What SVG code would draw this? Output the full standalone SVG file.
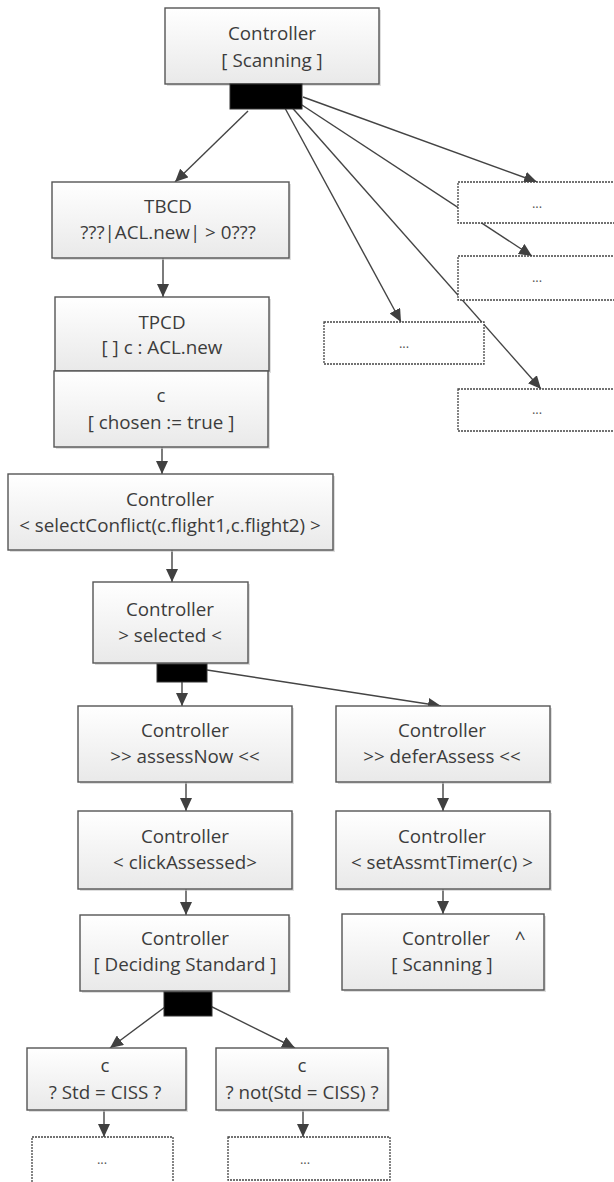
<svg xmlns="http://www.w3.org/2000/svg" width="614" height="1182" viewBox="0 0 614 1182">
<style>
.box{fill:url(#g);stroke:#555;stroke-width:1.4}
.sh{fill:#c8c8c8;opacity:0.6}
.dash{fill:#fff;stroke:#444;stroke-width:1.3;stroke-dasharray:2 1}
.bar{fill:#000;stroke:#333;stroke-width:1}
.t{font-family:"Open Sans","Liberation Sans",sans-serif;font-size:18.8px;fill:#3c3c3c;text-anchor:middle}
.d{font-family:"Open Sans","Liberation Sans",sans-serif;font-size:13px;fill:#555;text-anchor:middle}
.c{stroke:#444;stroke-width:1.4;fill:none;marker-end:url(#a)}
</style>
<defs>
<linearGradient id="g" x1="0" y1="0" x2="0" y2="1">
<stop offset="0" stop-color="#ffffff"/>
<stop offset="1" stop-color="#e9e9e9"/>
</linearGradient>
<marker id="a" markerUnits="userSpaceOnUse" markerWidth="13" markerHeight="12" refX="13" refY="6" orient="auto">
<path d="M0,0 L13,6 L0,12 z" fill="#404040"/>
</marker>
</defs>

<g id="connectors">
<line class="c" x1="248" y1="111" x2="175" y2="182"/>
<line class="c" x1="273" y1="86" x2="401" y2="322"/>
<line class="c" x1="273" y1="86" x2="541" y2="389"/>
<line class="c" x1="273" y1="86" x2="532" y2="256"/>
<line class="c" x1="303" y1="97" x2="537" y2="182"/>
<line class="c" x1="163" y1="258" x2="163" y2="297"/>
<line class="c" x1="162" y1="447" x2="162" y2="474"/>
<line class="c" x1="172" y1="550" x2="172" y2="582"/>
<line class="c" x1="182" y1="682" x2="182" y2="706"/>
<line class="c" x1="207" y1="670" x2="441" y2="706"/>
<line class="c" x1="186" y1="782" x2="186" y2="811"/>
<line class="c" x1="186" y1="889" x2="186" y2="915"/>
<line class="c" x1="443" y1="782" x2="443" y2="811"/>
<line class="c" x1="443" y1="889" x2="443" y2="914"/>
<line class="c" x1="165" y1="1007" x2="110" y2="1048"/>
<line class="c" x1="182" y1="992" x2="295" y2="1048"/>
<line class="c" x1="104" y1="1110" x2="104" y2="1137"/>
<line class="c" x1="303" y1="1110" x2="303" y2="1137"/>
</g>

<g id="n-scan-top">
<rect class="sh" x="167" y="10" width="214" height="76"/>
<rect class="box" x="165" y="8" width="214" height="76"/>
<text class="t" x="272" y="40">Controller</text>
<text class="t" x="272" y="67">[ Scanning ]</text>
</g>
<g id="bar-top"><rect class="bar" x="230" y="84" width="72" height="25"/></g>

<g id="n-dots-1">
<rect class="dash" x="458" y="182" width="160" height="41"/>
<text class="d" x="537" y="208">...</text>
</g>
<g id="n-dots-2">
<rect class="dash" x="458" y="256" width="160" height="44"/>
<text class="d" x="537" y="282">...</text>
</g>
<g id="n-dots-3">
<rect class="dash" x="324" y="322" width="160" height="42"/>
<text class="d" x="404" y="348">...</text>
</g>
<g id="n-dots-4">
<rect class="dash" x="458" y="389" width="160" height="42"/>
<text class="d" x="537" y="414">...</text>
</g>

<g id="n-tbcd">
<rect class="sh" x="54" y="184" width="237" height="76"/>
<rect class="box" x="52" y="182" width="237" height="76"/>
<text class="t" x="168" y="213">TBCD</text>
<text class="t" x="168" y="239">???|ACL.new| &gt; 0???</text>
</g>

<g id="n-tpcd">
<rect class="sh" x="57" y="299" width="214" height="74"/>
<rect class="box" x="55" y="297" width="214" height="74"/>
<text class="t" x="162" y="329">TPCD</text>
<text class="t" x="162" y="354">[ ] c : ACL.new</text>
</g>

<g id="n-c-chosen">
<rect class="sh" x="56" y="373" width="214" height="76"/>
<rect class="box" x="54" y="371" width="214" height="76"/>
<text class="t" x="161" y="402">c</text>
<text class="t" x="161" y="429">[ chosen := true ]</text>
</g>

<g id="n-select">
<rect class="sh" x="10" y="476" width="325" height="76"/>
<rect class="box" x="8" y="474" width="325" height="76"/>
<text class="t" x="170" y="506">Controller</text>
<text class="t" x="170" y="532">&lt; selectConflict(c.flight1,c.flight2) &gt;</text>
</g>

<g id="n-selected">
<rect class="sh" x="95" y="584" width="155" height="81"/>
<rect class="box" x="93" y="582" width="155" height="81"/>
<text class="t" x="170" y="616">Controller</text>
<text class="t" x="170" y="642">&gt; selected &lt;</text>
</g>
<g id="bar-selected"><rect class="bar" x="157" y="664" width="50" height="18"/></g>

<g id="n-assessnow">
<rect class="sh" x="80" y="708" width="214" height="76"/>
<rect class="box" x="78" y="706" width="214" height="76"/>
<text class="t" x="185" y="737">Controller</text>
<text class="t" x="185" y="763">&gt;&gt; assessNow &lt;&lt;</text>
</g>

<g id="n-click">
<rect class="sh" x="80" y="813" width="214" height="78"/>
<rect class="box" x="78" y="811" width="214" height="78"/>
<text class="t" x="185" y="843">Controller</text>
<text class="t" x="185" y="869">&lt; clickAssessed&gt;</text>
</g>

<g id="n-deciding">
<rect class="sh" x="82" y="917" width="209" height="76"/>
<rect class="box" x="80" y="915" width="209" height="76"/>
<text class="t" x="185" y="945">Controller</text>
<text class="t" x="185" y="971">[ Deciding Standard ]</text>
</g>
<g id="bar-deciding"><rect class="bar" x="164" y="992" width="48" height="24"/></g>

<g id="n-defer">
<rect class="sh" x="338" y="708" width="214" height="76"/>
<rect class="box" x="336" y="706" width="214" height="76"/>
<text class="t" x="442" y="737">Controller</text>
<text class="t" x="442" y="763">&gt;&gt; deferAssess &lt;&lt;</text>
</g>

<g id="n-timer">
<rect class="sh" x="338" y="813" width="214" height="78"/>
<rect class="box" x="336" y="811" width="214" height="78"/>
<text class="t" x="442" y="843">Controller</text>
<text class="t" x="442" y="869">&lt; setAssmtTimer(c) &gt;</text>
</g>

<g id="n-scan-right">
<rect class="sh" x="344" y="916" width="202" height="76"/>
<rect class="box" x="342" y="914" width="202" height="76"/>
<text class="t" x="446" y="945">Controller</text>
<text class="t" x="520" y="945">^</text>
<text class="t" x="442" y="971">[ Scanning ]</text>
</g>

<g id="n-std">
<rect class="sh" x="29" y="1050" width="159" height="62"/>
<rect class="box" x="27" y="1048" width="159" height="62"/>
<text class="t" x="105" y="1072">c</text>
<text class="t" x="105" y="1099">? Std = CISS ?</text>
</g>

<g id="n-notstd">
<rect class="sh" x="218" y="1050" width="172" height="62"/>
<rect class="box" x="216" y="1048" width="172" height="62"/>
<text class="t" x="302" y="1072">c</text>
<text class="t" x="302" y="1099">? not(Std = CISS) ?</text>
</g>

<g id="n-dots-5">
<rect class="dash" x="32" y="1137" width="141" height="60"/>
<text class="d" x="102" y="1164">...</text>
</g>
<g id="n-dots-6">
<rect class="dash" x="228" y="1137" width="162" height="43"/>
<text class="d" x="305" y="1164">...</text>
</g>
</svg>
